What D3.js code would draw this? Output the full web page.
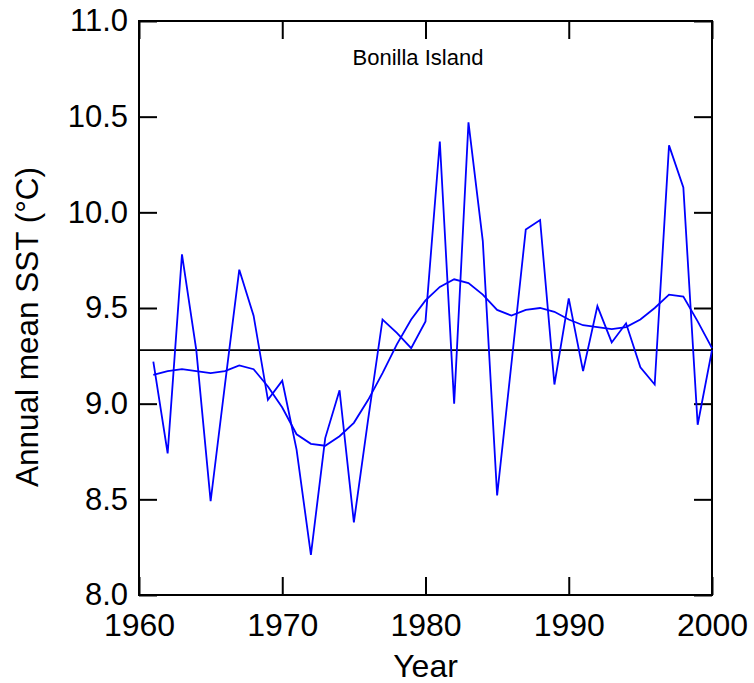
<!DOCTYPE html>
<html>
<head>
<meta charset="utf-8">
<script src="https://cdn.jsdelivr.net/npm/d3@7"></script>
<style>
  body { margin: 0; background: #fff; }
  svg { font-family: "Liberation Sans", Arial, sans-serif; }
</style>
</head>
<body>
<svg id="chart" width="754" height="683"></svg>
<script>
// annual mean SST, Bonilla Island
const years = d3.range(1961, 2001)
const sst = [9.22, 8.74, 9.78, 9.28, 8.49, 9.10, 9.70, 9.46, 9.02, 9.12,
  8.76, 8.21, 8.82, 9.07, 8.38, 8.92, 9.44, 9.37, 9.29, 9.43,
  10.37, 9.00, 10.47, 9.85, 8.52, 9.21, 9.91, 9.96, 9.10, 9.55,
  9.17, 9.51, 9.32, 9.42, 9.19, 9.10, 10.35, 10.13, 8.89, 9.28]
const smooth = [9.15, 9.17, 9.18, 9.17, 9.16, 9.17, 9.20, 9.18, 9.09, 8.98,
  8.84, 8.79, 8.78, 8.83, 8.90, 9.02, 9.16, 9.31, 9.44, 9.54,
  9.61, 9.65, 9.63, 9.57, 9.49, 9.46, 9.49, 9.50, 9.48, 9.44,
  9.41, 9.40, 9.39, 9.40, 9.44, 9.50, 9.57, 9.56, 9.43, 9.29]
const meanLevel = 9.28
const xTicks = [1960, 1970, 1980, 1990, 2000]
const yTicks = [8.0, 8.5, 9.0, 9.5, 10.0, 10.5, 11.0]

const margin = { left: 139, top: 21, right: 42, bottom: 88 }
const svg = d3.select('#chart')
const width = +svg.attr('width') - margin.left - margin.right
const height = +svg.attr('height') - margin.top - margin.bottom
const g = svg.append('g').attr('transform', `translate(${margin.left}, ${margin.top})`)

const x = d3.scaleLinear().domain([1960, 2000]).range([0, width])
const y = d3.scaleLinear().domain([8, 11]).range([height, 0])

// inward ticks on all four sides
const tickLen = 18
function styleAxis (sel) {
  sel.select('.domain').remove()
  sel.selectAll('line').attr('stroke', '#000').attr('stroke-width', 2)
}
g.append('g').attr('transform', `translate(0, ${height})`)
  .call(d3.axisBottom(x).tickValues(xTicks).tickSize(-tickLen).tickFormat(d3.format('d')).tickPadding(18))
  .call(styleAxis)
  .selectAll('text').attr('font-size', 32).attr('fill', '#000').attr('font-family', 'Liberation Sans, Arial, sans-serif')
g.append('g')
  .call(d3.axisTop(x).tickValues(xTicks).tickSize(-tickLen).tickFormat(''))
  .call(styleAxis)
g.append('g')
  .call(d3.axisLeft(y).tickValues(yTicks).tickSize(-tickLen).tickFormat(d3.format('.1f')).tickPadding(11))
  .call(styleAxis)
  .selectAll('text').attr('font-size', 31).attr('fill', '#000').attr('font-family', 'Liberation Sans, Arial, sans-serif')
g.append('g').attr('transform', `translate(${width}, 0)`)
  .call(d3.axisRight(y).tickValues(yTicks).tickSize(-tickLen).tickFormat(''))
  .call(styleAxis)

// frame
g.append('rect').attr('width', width).attr('height', height)
  .attr('fill', 'none').attr('stroke', '#000').attr('stroke-width', 2)

// mean level
g.append('line')
  .attr('x1', 0).attr('x2', width)
  .attr('y1', y(meanLevel)).attr('y2', y(meanLevel))
  .attr('stroke', '#000').attr('stroke-width', 1.6)

const line = d3.line().x((d, i) => x(years[i])).y(d => y(d))
g.append('path').datum(sst).attr('d', line)
  .attr('fill', 'none').attr('stroke', '#0000ff').attr('stroke-width', 1.8)
g.append('path').datum(smooth).attr('d', line)
  .attr('fill', 'none').attr('stroke', '#0000ff').attr('stroke-width', 1.8)

g.append('text').attr('x', 279).attr('y', 44)
  .attr('text-anchor', 'middle').attr('font-size', 22).text('Bonilla Island')

svg.append('text').attr('x', margin.left + width / 2).attr('y', 677)
  .attr('text-anchor', 'middle').attr('font-size', 32).text('Year')

svg.append('text').attr('transform', 'translate(38, 327) rotate(-90)')
  .attr('text-anchor', 'middle').attr('font-size', 31.5).text('Annual mean SST (°C)')
</script>
</body>
</html>
